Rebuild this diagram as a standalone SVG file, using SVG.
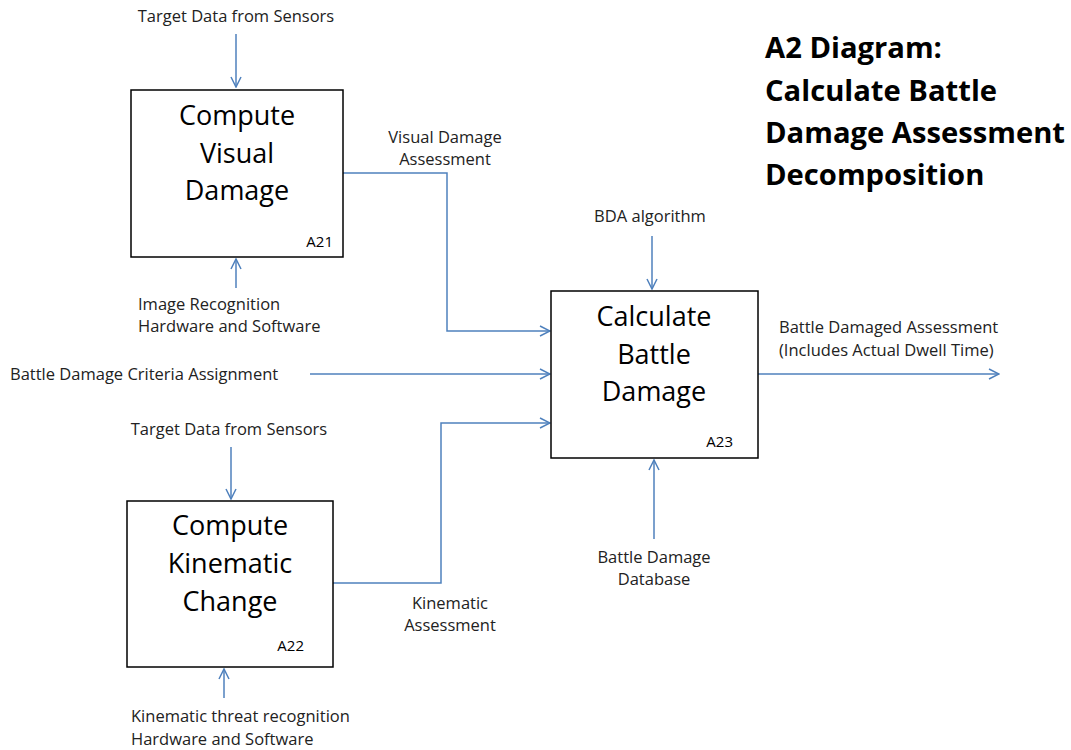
<svg xmlns="http://www.w3.org/2000/svg" width="1071" height="750" viewBox="0 0 1071 750">
<style>
.box{fill:#fff;stroke:#000;stroke-width:1.5}
.t{font-family:"Open Sans","Liberation Sans",sans-serif;font-size:27px;fill:#000;text-anchor:middle}
.id{font-family:"Open Sans","Liberation Sans",sans-serif;font-size:15px;fill:#000;text-anchor:end}
.l{font-family:"Open Sans","Liberation Sans",sans-serif;font-size:16.5px;fill:#222}
.c{text-anchor:middle}
.h{font-family:"Open Sans","Liberation Sans",sans-serif;font-size:29.2px;font-weight:bold;fill:#000}
.w{fill:none;stroke:#4F81BD;stroke-width:1.5;marker-end:url(#ah)}
</style>
<defs>
<marker id="ah" viewBox="0 0 12 12" refX="11" refY="6" markerWidth="12" markerHeight="12" markerUnits="userSpaceOnUse" orient="auto">
<path d="M1,1 L11,6 L1,11" fill="none" stroke="#4F81BD" stroke-width="1.5"/>
</marker>
</defs>
<g id="title">
<text class="h" x="765" y="58">A2 Diagram:</text>
<text class="h" x="765" y="101">Calculate Battle</text>
<text class="h" x="765" y="143">Damage Assessment</text>
<text class="h" x="765" y="185">Decomposition</text>
</g>
<g id="connectors">
<path class="w" d="M236,34 V87"/>
<path class="w" d="M236,288 V259"/>
<path class="w" d="M343,173 H447 V331 H550"/>
<path class="w" d="M310,374 H550"/>
<path class="w" d="M333,583 H441 V423 H550"/>
<path class="w" d="M231,447 V499"/>
<path class="w" d="M224,698 V669"/>
<path class="w" d="M652,236 V289"/>
<path class="w" d="M654,539 V460"/>
<path class="w" d="M758,374 H999"/>
</g>
<g id="A21">
<rect class="box" x="131" y="90" width="212" height="167"/>
<text class="t" x="237" y="125">Compute</text>
<text class="t" x="237" y="163">Visual</text>
<text class="t" x="237" y="200">Damage</text>
<text class="id" x="333" y="247">A21</text>
</g>
<g id="A22">
<rect class="box" x="127" y="501" width="206" height="166"/>
<text class="t" x="230" y="535">Compute</text>
<text class="t" x="230" y="573">Kinematic</text>
<text class="t" x="230" y="611">Change</text>
<text class="id" x="304" y="651">A22</text>
</g>
<g id="A23">
<rect class="box" x="551" y="291" width="207" height="167"/>
<text class="t" x="654" y="326">Calculate</text>
<text class="t" x="654" y="364">Battle</text>
<text class="t" x="654" y="401">Damage</text>
<text class="id" x="733" y="447">A23</text>
</g>
<g id="labels">
<text class="l c" x="236" y="22">Target Data from Sensors</text>
<text class="l c" x="445" y="143">Visual Damage</text>
<text class="l c" x="445" y="165">Assessment</text>
<text class="l" x="138" y="310">Image Recognition</text>
<text class="l" x="138" y="332">Hardware and Software</text>
<text class="l" x="10" y="380">Battle Damage Criteria Assignment</text>
<text class="l c" x="229" y="435">Target Data from Sensors</text>
<text class="l c" x="450" y="609">Kinematic</text>
<text class="l c" x="450" y="631">Assessment</text>
<text class="l" x="131" y="722">Kinematic threat recognition</text>
<text class="l" x="131" y="745">Hardware and Software</text>
<text class="l c" x="650" y="222">BDA algorithm</text>
<text class="l" x="779" y="333">Battle Damaged Assessment</text>
<text class="l" x="779" y="356">(Includes Actual Dwell Time)</text>
<text class="l c" x="654" y="563">Battle Damage</text>
<text class="l c" x="654" y="585">Database</text>
</g>
</svg>
